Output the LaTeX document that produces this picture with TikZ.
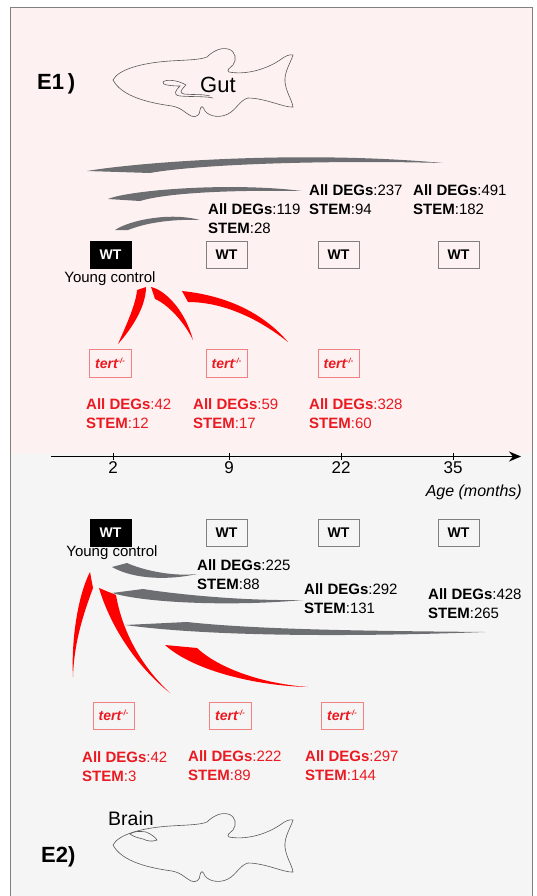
\documentclass[tikz,border=0pt]{standalone}
\usepackage{fontspec}
\setmainfont{Liberation Sans}
\usepackage{xcolor}
\usetikzlibrary{positioning, calc, arrows.meta}

\definecolor{gutbg}{RGB}{253,242,241}
\definecolor{brainbg}{RGB}{245,245,245}
\definecolor{framegray}{RGB}{128,128,128}
\definecolor{deggray}{RGB}{109,110,113}
\definecolor{tertred}{RGB}{235,26,34}
\definecolor{tertline}{RGB}{240,130,130}
\definecolor{swred}{RGB}{255,0,0}

\tikzset{
  fish/.pic={
    \draw[fishline] (113,80) .. controls (118,70) and (140,63) .. (170,61)
      .. controls (185,60) and (200,60) .. (207,57)
      .. controls (212,52) and (220,47) .. (228,49)
      .. controls (236,51) and (237,60) .. (233,65)
      .. controls (230,68) and (226,70) .. (229,72)
      .. controls (245,75) and (265,70) .. (280,60)
      .. controls (285,56) and (290,54) .. (293,55)
      .. controls (291,62) and (284,72) .. (285,82)
      .. controls (286,92) and (292,100) .. (293,107)
      .. controls (285,108) and (265,98) .. (248,98)
      .. controls (240,100) and (236,110) .. (228,114)
      .. controls (220,118) and (210,117) .. (205,111)
      .. controls (203,106) and (201,105) .. (200,110)
      .. controls (200,115) and (196,118) .. (191,116)
      .. controls (185,113) and (182,108) .. (172,106)
      .. controls (150,103) and (122,97) .. (113,80) -- cycle;
  }
}

\begin{document}
\begin{tikzpicture}[x=1pt, y=-1pt, every node/.style={inner sep=0pt},
    fishline/.style={draw=black!65, line width=0.6pt},
    wtbox/.style={draw=framegray, line width=0.9pt},
    wtlabel/.style={font=\fontsize{14}{16}\selectfont\bfseries},
    tertbox/.style={draw=tertline, line width=0.9pt},
    tertlabel/.style={text=tertred, font=\fontsize{14}{16}\selectfont\bfseries\itshape},
    deg/.style={align=left, anchor=north west, font=\fontsize{15}{19}\selectfont},
    degred/.style={deg, text=tertred}]
  \useasboundingbox (0,0) rectangle (536,896);
  \fill[white] (0,0) rectangle (536,896);
  \fill[gutbg] (10,7.5) rectangle (532,453);
  \fill[brainbg] (10,453) rectangle (532,896);
  \draw[framegray, line width=1pt] (10,896) -- (10,7.5) -- (532,7.5) -- (532,896);

  % gut panel
  \node[anchor=base west, font=\fontsize{22}{26}\selectfont\bfseries] (e1) at (37,90) {E1\,)};
  \pic at (0,0) {fish};
  \draw[fishline] (186,85) .. controls (178,80) and (166,79) .. (163,82) .. controls (161,85) and (172,86) .. (180,86)
    .. controls (176,90) and (172,95) .. (180,96) .. controls (192,97) and (204,96) .. (213,98);
  \draw[fishline] (186,85) .. controls (182,89) and (178,93) .. (184,94) .. controls (194,95) and (203,94) .. (210,96);
  \node[anchor=base west, font=\fontsize{22}{26}\selectfont] (gut) at (200,93) {Gut};

  \coordinate (s9) at (115,230);  \coordinate (e9) at (200,220);
  \coordinate (s22) at (108,199); \coordinate (e22) at (302,191);
  \coordinate (s35) at (87,171);  \coordinate (e35) at (443,163);
  \fill[deggray] (s9) .. controls +(15,-10) and +(-30,-8) .. (e9) .. controls +(-25,-1) and +(20,-8) .. ($(s9)+(13,0)$) -- cycle;
  \fill[deggray] (s22) .. controls +(22,-9) and +(-72,-9) .. (e22) .. controls +(-62,-1) and +(30,-9) .. ($(s22)+(32,2)$) -- cycle;
  \fill[deggray] (s35) .. controls +(53,-9) and +(-143,-13) .. (e35) .. controls +(-113,-3) and +(50,-9) .. ($(s35)+(63,2)$) -- cycle;

  \node[deg] (g9) at (208,203.3) {\textbf{All DEGs}:119\\\textbf{STEM}:28};
  \node[deg] (g22) at (309,184.3) {\textbf{All DEGs}:237\\\textbf{STEM}:94};
  \node[deg] (g35) at (413,184.3) {\textbf{All DEGs}:491\\\textbf{STEM}:182};

  \draw[draw=black, fill=black, line width=0.9pt] (90,241) rectangle (131,268) node[midway, wtlabel, text=white] (wtc1) {WT};
  \draw[wtbox] (206,241) rectangle (247,268) node[midway, wtlabel] (wt9a) {WT};
  \draw[wtbox] (318,241) rectangle (359,268) node[midway, wtlabel] (wt22a) {WT};
  \draw[wtbox] (438,241) rectangle (479,268) node[midway, wtlabel] (wt35a) {WT};
  \node[anchor=base, font=\fontsize{15}{17}\selectfont] (yc1) at (110,282) {Young control};

  \coordinate (r2a) at (146,287); \coordinate (r2e) at (118,344);
  \coordinate (r9a) at (151,287); \coordinate (r9e) at (193,340);
  \coordinate (r22a) at (182,291); \coordinate (r22e) at (288,342);
  \fill[swred] (r2a) .. controls +(0,23) and +(9,-10) .. (r2e) .. controls +(6,-14) and +(-1,15) .. ($(r2a)+(-9,3)$) -- cycle;
  \fill[swred] (r9a) .. controls +(14,3) and +(-8,-30) .. (r9e) .. controls +(-11,-22) and +(10,4) .. ($(r9a)+(4,12)$) -- cycle;
  \fill[swred] (r22a) .. controls +(48,5) and +(-23,-27) .. (r22e) .. controls +(-38,-30) and +(27,0) .. ($(r22a)+(6,11)$) -- cycle;

  \draw[tertbox] (89,349) rectangle (131,377) node[midway, tertlabel] (kd2a) {tert\raisebox{5pt}{\fontsize{7.5}{8}\selectfont -/-}};
  \draw[tertbox] (206,349) rectangle (247,377) node[midway, tertlabel] (kd9a) {tert\raisebox{5pt}{\fontsize{7.5}{8}\selectfont -/-}};
  \draw[tertbox] (318,349) rectangle (359,377) node[midway, tertlabel] (kd22a) {tert\raisebox{5pt}{\fontsize{7.5}{8}\selectfont -/-}};

  \node[degred] (k2a) at (86,398.3) {\textbf{All DEGs}:42\\\textbf{STEM}:12};
  \node[degred] (k9a) at (193,398.3) {\textbf{All DEGs}:59\\\textbf{STEM}:17};
  \node[degred] (k22a) at (309,398.3) {\textbf{All DEGs}:328\\\textbf{STEM}:60};

  % time axis
  \draw[line width=1.2pt, -{Stealth[length=12pt, width=10pt]}] (51,456.5) -- (521,456.5);
  \foreach \x/\age in {113/2, 229/9, 341/22, 453/35} {
    \draw[line width=0.8pt] (\x,452.5) -- (\x,460);
    \node[anchor=base, font=\fontsize{17}{20}\selectfont] (age\age) at (\x,473) {\age};
  }
  \node[anchor=base east, font=\fontsize{16}{19}\selectfont\itshape] (agelbl) at (522,496) {Age (months)};

  % brain panel
  \draw[draw=black, fill=black, line width=0.9pt] (90,519) rectangle (131,546) node[midway, wtlabel, text=white] (wtc2) {WT};
  \draw[wtbox] (206,519) rectangle (247,546) node[midway, wtlabel] (wt9b) {WT};
  \draw[wtbox] (318,519) rectangle (359,546) node[midway, wtlabel] (wt22b) {WT};
  \draw[wtbox] (438,519) rectangle (479,546) node[midway, wtlabel] (wt35b) {WT};
  \node[anchor=base, font=\fontsize{15}{17}\selectfont] (yc2) at (112,556) {Young control};

  \coordinate (b9s) at (112,567);  \coordinate (b9e) at (197,574);
  \coordinate (b22s) at (112,593); \coordinate (b22e) at (303,600);
  \coordinate (b35s) at (125,625); \coordinate (b35e) at (485,632);
  \fill[deggray] (b9s) -- ++(15,-4) .. controls +(13,6) and +(-27,3) .. (b9e) .. controls +(-27,6) and +(23,13) .. (b9s) -- cycle;
  \fill[deggray] (b22s) -- ++(31,-4) .. controls +(32,5) and +(-63,1) .. (b22e) .. controls +(-63,6) and +(38,11) .. (b22s) -- cycle;
  \fill[deggray] (b35s) -- ++(62,-3) .. controls +(73,8) and +(-105,-1) .. (b35e) .. controls +(-105,4) and +(95,13) .. (b35s) -- cycle;

  \node[deg] (g9b) at (197,559.3) {\textbf{All DEGs}:225\\\textbf{STEM}:88};
  \node[deg] (g22b) at (304,583.3) {\textbf{All DEGs}:292\\\textbf{STEM}:131};
  \node[deg] (g35b) at (428,588.3) {\textbf{All DEGs}:428\\\textbf{STEM}:265};

  \coordinate (q2a) at (90,572);  \coordinate (q2e) at (73,677);
  \coordinate (q9a) at (99,588);  \coordinate (q9e) at (170,693);
  \coordinate (q22a) at (165,645); \coordinate (q22e) at (308,687);
  \fill[swred] (q2a) -- ++(3,16) .. controls +(-8,22) and +(1,-37) .. (q2e) .. controls +(-2,-37) and +(-12,23) .. (q2a) -- cycle;
  \fill[swred] (q9a) -- ++(17,7) .. controls +(6,35) and +(-30,-28) .. (q9e) .. controls +(-35,-28) and +(11,37) .. (q9a) -- cycle;
  \fill[swred] (q22a) -- ++(32,3) .. controls +(18,17) and +(-53,-4) .. (q22e) .. controls +(-48,-1) and +(30,27) .. (q22a) -- cycle;

  \draw[tertbox] (93,702) rectangle (134,729) node[midway, tertlabel] (kd2b) {tert\raisebox{5pt}{\fontsize{7.5}{8}\selectfont -/-}};
  \draw[tertbox] (209,702) rectangle (251,729) node[midway, tertlabel] (kd9b) {tert\raisebox{5pt}{\fontsize{7.5}{8}\selectfont -/-}};
  \draw[tertbox] (321,702) rectangle (363,729) node[midway, tertlabel] (kd22b) {tert\raisebox{5pt}{\fontsize{7.5}{8}\selectfont -/-}};

  \node[degred] (k2b) at (82,751.3) {\textbf{All DEGs}:42\\\textbf{STEM}:3};
  \node[degred] (k9b) at (188,750.3) {\textbf{All DEGs}:222\\\textbf{STEM}:89};
  \node[degred] (k22b) at (305,750.3) {\textbf{All DEGs}:297\\\textbf{STEM}:144};

  \node[anchor=base west, font=\fontsize{19.5}{23}\selectfont] (brain) at (108,825) {Brain};
  \pic at (0,765) {fish};
  \draw[fishline] (130,834) .. controls (134,831) and (140,831) .. (146,832) .. controls (151,834) and (155,837) .. (157,840)
    .. controls (152,842) and (147,841) .. (143,839) .. controls (139,838) and (134,837) .. (130,834) -- cycle;
  \node[anchor=base west, font=\fontsize{22}{26}\selectfont\bfseries] (e2) at (41,862) {E2)};
\end{tikzpicture}
\end{document}
